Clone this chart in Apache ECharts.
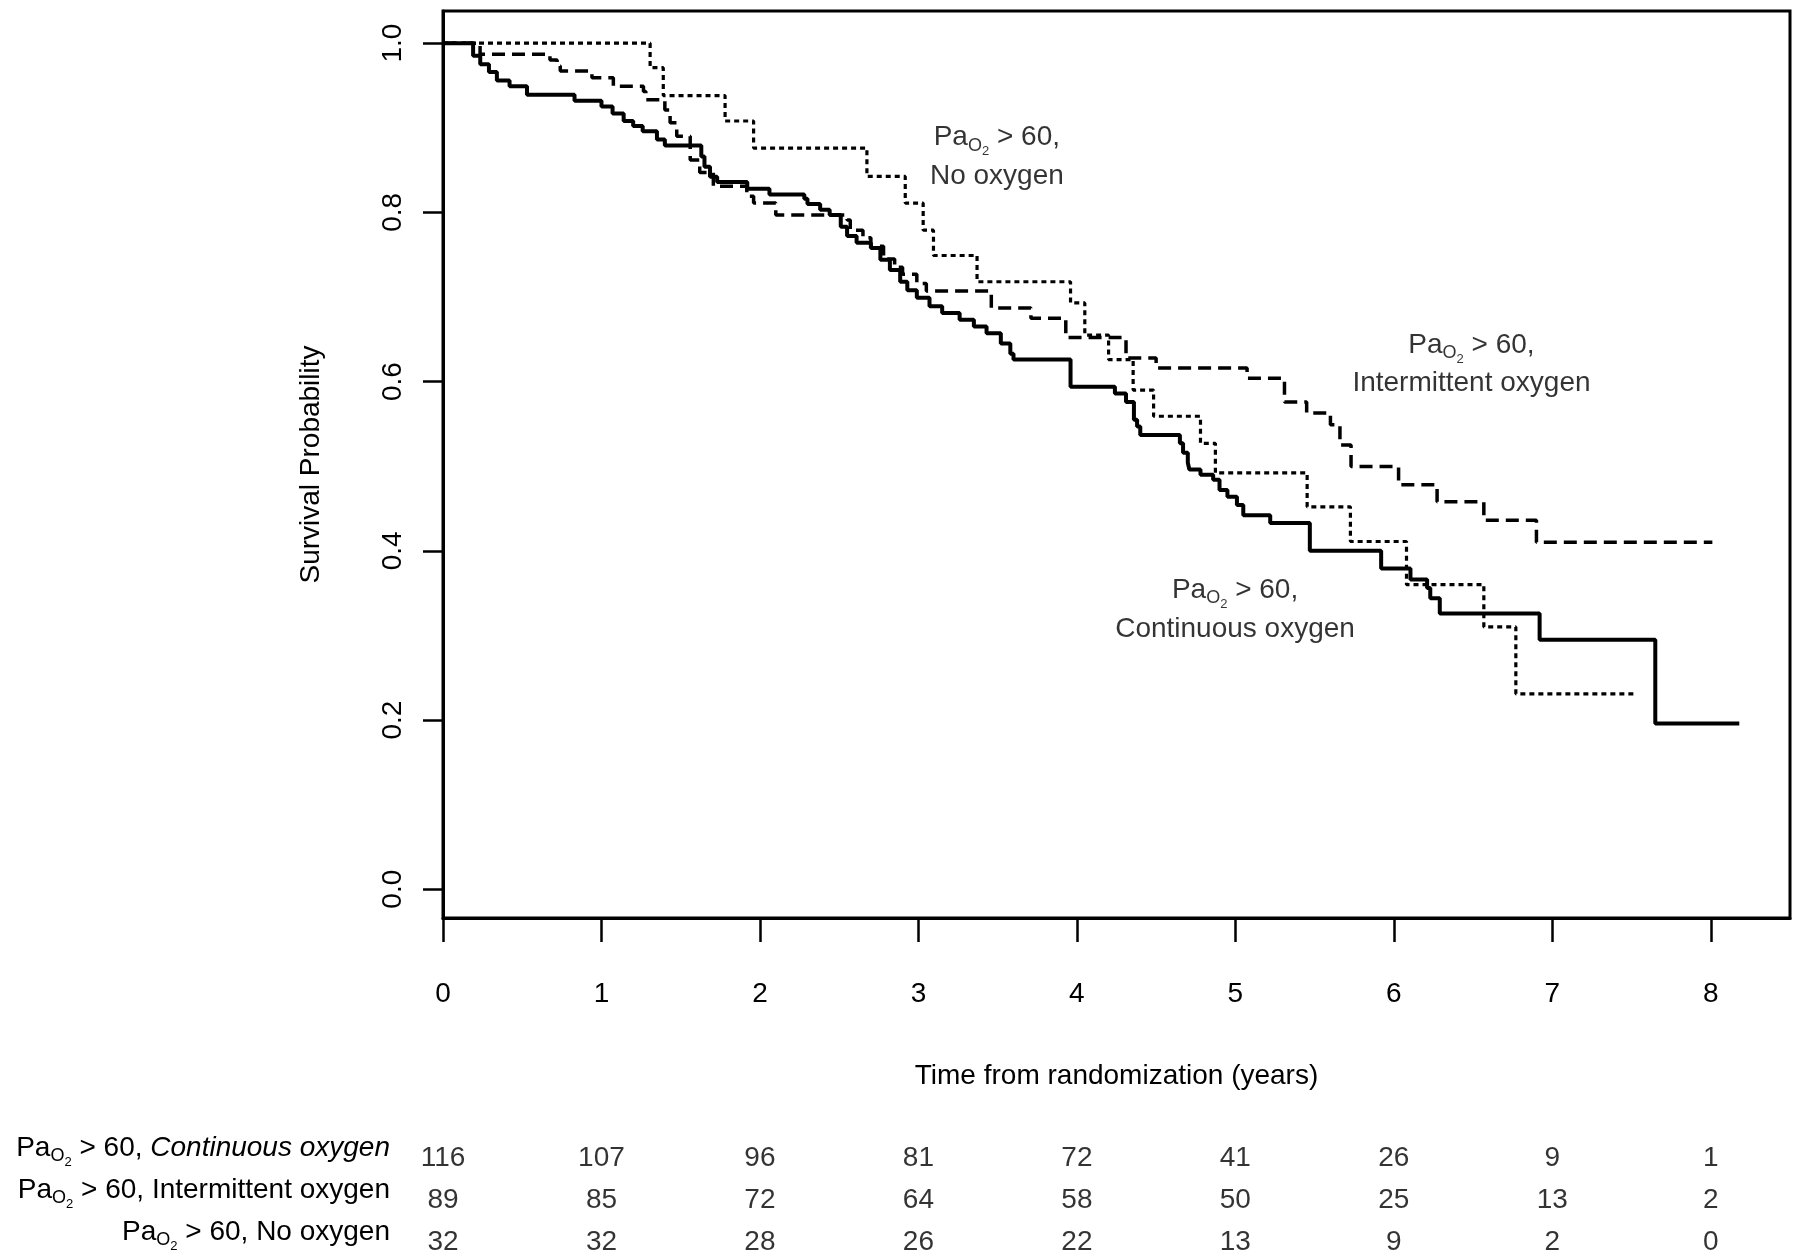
<!DOCTYPE html>
<html><head><meta charset="utf-8">
<script src="https://cdn.jsdelivr.net/npm/echarts@6/dist/echarts.min.js"></script>
<style>html,body{margin:0;padding:0;background:#fff}#c{width:1800px;height:1258px}</style>
</head><body><div id="c"></div>
<script>
// ---- data ----
// Kaplan-Meier change points [time (years), survival]
const continuousOxygen = [
  [0,1.0],[0.19,0.985],[0.235,0.975],[0.29,0.966],[0.34,0.956],[0.42,0.949],[0.53,0.939],
  [0.83,0.932],[1.0,0.925],[1.07,0.917],[1.14,0.908],[1.2,0.902],[1.26,0.896],[1.35,0.886],
  [1.40,0.879],[1.63,0.866],[1.65,0.854],[1.685,0.842],[1.73,0.836],[1.92,0.828],[2.06,0.821],
  [2.28,0.816],[2.30,0.81],[2.38,0.803],[2.44,0.797],[2.51,0.783],[2.55,0.772],[2.61,0.764],
  [2.70,0.758],[2.76,0.744],[2.82,0.732],[2.885,0.718],[2.93,0.708],[2.99,0.699],[3.07,0.689],
  [3.15,0.681],[3.26,0.673],[3.35,0.665],[3.43,0.657],[3.52,0.645],[3.58,0.633],[3.6,0.626],
  [3.96,0.594],[4.24,0.586],[4.31,0.576],[4.36,0.555],[4.38,0.547],[4.40,0.537],[4.65,0.527],
  [4.67,0.516],[4.70,0.504],[4.71,0.496],[4.78,0.49],[4.86,0.484],[4.90,0.472],[4.95,0.464],
  [5.01,0.454],[5.05,0.442],[5.22,0.433],[5.47,0.40],[5.92,0.379],[6.105,0.366],[6.21,0.356],
  [6.23,0.344],[6.29,0.326],[6.92,0.295],[7.65,0.196],[8.18,0.196]
];
const intermittentOxygen = [
  [0,1.0],[0.234,0.987],[0.675,0.98],[0.72,0.973],[0.74,0.967],[0.94,0.959],[1.075,0.949],
  [1.265,0.943],[1.28,0.933],[1.40,0.921],[1.433,0.906],[1.475,0.89],[1.56,0.862],[1.62,0.847],
  [1.706,0.831],[1.917,0.819],[1.96,0.811],[2.1,0.797],[2.55,0.791],[2.57,0.779],[2.65,0.77],
  [2.70,0.76],[2.78,0.745],[2.85,0.735],[2.90,0.727],[2.99,0.716],[3.05,0.707],[3.46,0.687],
  [3.71,0.675],[3.93,0.652],[4.31,0.628],[4.5,0.616],[5.074,0.604],[5.31,0.576],[5.45,0.563],
  [5.6,0.549],[5.66,0.525],[5.73,0.4995],[6.03,0.478],[6.273,0.458],[6.568,0.436],[6.9,0.41],
  [8.01,0.41]
];
const noOxygen = [
  [0,1.0],[1.307,0.971],[1.39,0.938],[1.78,0.908],[1.96,0.876],[2.675,0.8425],[2.917,0.811],
  [3.03,0.779],[3.095,0.749],[3.37,0.718],[3.96,0.693],[4.05,0.655],[4.2,0.626],[4.355,0.59],
  [4.484,0.559],[4.78,0.527],[4.874,0.492],[5.453,0.452],[5.726,0.411],[6.08,0.36],[6.568,0.31],
  [6.77,0.231],[7.536,0.231]
];
const xTicks = [0,1,2,3,4,5,6,7,8];
const yTicks = [0,0.2,0.4,0.6,0.8,1.0];
const riskTimes = [0,1,2,3,4,5,6,7,8];
const riskContinuous = [116,107,96,81,72,41,26,9,1];
const riskIntermittent = [89,85,72,64,58,50,25,13,2];
const riskNone = [32,32,28,26,22,13,9,2,0];
const groupNames = ['Continuous oxygen','Intermittent oxygen','No oxygen'];

// ---- presentation ----
const FONT = '"Liberation Sans", Arial, Helvetica, sans-serif';
const rich = {
  n: {fontSize: 28, fontFamily: FONT, color: '#000', lineHeight: 36},
  i: {fontSize: 28, fontFamily: FONT, color: '#000', lineHeight: 36, fontStyle: 'italic'},
  s: {fontSize: 18, fontFamily: FONT, color: '#000', padding: [16,0,0,0]},
  ss: {fontSize: 13, fontFamily: FONT, color: '#000', padding: [28,0,0,0]}
};
const pao2 = '{n|Pa}{s|O}{ss|2}{n| > 60,}';
const rowLabels = [
  pao2 + '{n| }{i|' + groupNames[0] + '}',
  pao2 + '{n| ' + groupNames[1] + '}',
  pao2 + '{n| ' + groupNames[2] + '}'
];

function riskSeries(vals, row) {
  return {
    type: 'scatter', xAxisIndex: 1, yAxisIndex: 1, silent: true,
    symbolSize: 1, itemStyle: {color: 'rgba(0,0,0,0)'},
    data: riskTimes.map((t, i) => [t, row, vals[i]]),
    label: {show: true, position: 'inside', offset: [0, 10], formatter: p => String(p.value[2]),
            fontSize: 28, fontFamily: FONT, color: '#000'}
  };
}

const chart = echarts.init(document.getElementById('c'), null, {renderer: 'canvas'});
chart.setOption({
  animation: false,
  backgroundColor: '#fff',
  grid: [
    {left: 443, right: 10, top: 11, bottom: 340, show: true, borderColor: '#000', borderWidth: 3, backgroundColor: 'transparent'},
    {left: 443, right: 10, top: 1127, height: 126}
  ],
  xAxis: [
    {type: 'value', gridIndex: 0, min: 0, max: 8.5,
     axisLine: {show: true, onZero: false, lineStyle: {color: '#000', width: 3}},
     axisTick: {show: true, customValues: xTicks, length: 24, lineStyle: {color: '#000', width: 2.5}},
     axisLabel: {customValues: xTicks, margin: 62, fontSize: 28, fontFamily: FONT, color: '#000'},
     splitLine: {show: false},
     name: 'Time from randomization (years)', nameLocation: 'middle', nameGap: 144,
     nameTextStyle: {fontSize: 28, fontFamily: FONT, color: '#000'}},
    {type: 'value', gridIndex: 1, min: 0, max: 8.5, show: false}
  ],
  yAxis: [
    {type: 'value', gridIndex: 0, min: -0.034, max: 1.038,
     axisLine: {show: true, lineStyle: {color: '#000', width: 3}},
     axisTick: {show: true, customValues: yTicks, length: 20, lineStyle: {color: '#000', width: 2.5}},
     axisLabel: {customValues: yTicks, rotate: 90, margin: 36, fontSize: 28, fontFamily: FONT, color: '#000',
                 formatter: v => v.toFixed(1)},
     splitLine: {show: false},
     name: 'Survival Probability', nameLocation: 'middle', nameGap: 118,
     nameTextStyle: {fontSize: 28, fontFamily: FONT, color: '#000'}},
    {type: 'category', gridIndex: 1, data: [0,1,2], inverse: true,
     axisLine: {show: false}, axisTick: {show: false}, splitLine: {show: false},
     axisLabel: {margin: 53, formatter: v => rowLabels[v], rich: rich}}
  ],
  series: [
    {name: groupNames[0], type: 'line', step: 'end', data: continuousOxygen, symbol: 'none', z: 4,
     lineStyle: {color: '#000', width: 4}},
    {name: groupNames[1], type: 'line', step: 'end', data: intermittentOxygen, symbol: 'none', z: 3,
     lineStyle: {color: '#000', width: 3.5, type: [13, 7]}},
    {name: groupNames[2], type: 'line', step: 'end', data: noOxygen, symbol: 'none', z: 3,
     lineStyle: {color: '#000', width: 3.2, type: [5, 4]}},
    {type: 'scatter', silent: true, symbolSize: 1, itemStyle: {color: 'rgba(0,0,0,0)'},
     data: [[3.495, 0.867, groupNames[2]], [6.49, 0.622, groupNames[1]], [4.998, 0.332, groupNames[0]]],
     label: {show: true, position: 'inside', align: 'center', color: '#000',
             formatter: p => pao2 + '\n{n|' + p.value[2] + '}', rich: rich}},
    riskSeries(riskContinuous, 0),
    riskSeries(riskIntermittent, 1),
    riskSeries(riskNone, 2)
  ]
});
</script></body></html>
